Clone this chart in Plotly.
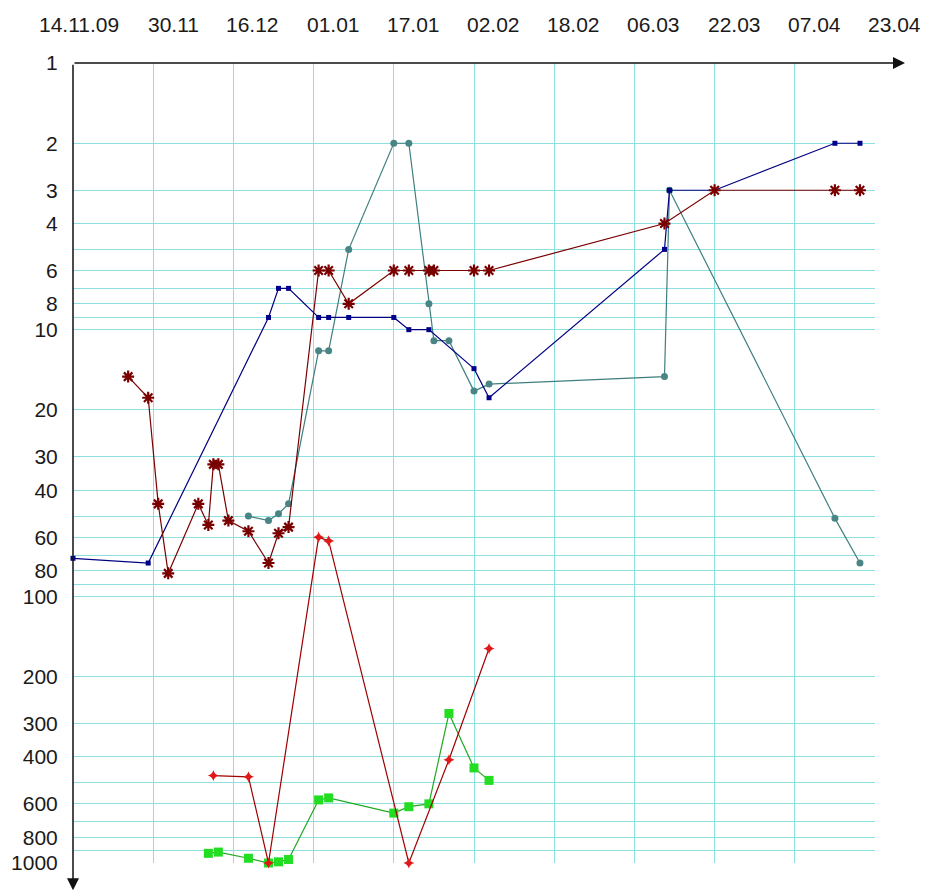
import plotly.graph_objects as go

# tick dates (every 16 days) and their labels
tick_dates = ['2009-11-14', '2009-11-30', '2009-12-16', '2010-01-01', '2010-01-17', '2010-02-02',
              '2010-02-18', '2010-03-06', '2010-03-22', '2010-04-07', '2010-04-23']
tick_text = ['14.11.09', '30.11', '16.12', '01.01', '17.01', '02.02',
             '18.02', '06.03', '22.03', '07.04', '23.04']

y_ticks = [1, 2, 3, 4, 5, 6, 7, 8, 9,
           10, 20, 30, 40, 50, 60, 70, 80, 90,
           100, 200, 300, 400, 500, 600, 700, 800, 900, 1000]
y_text = ['1', '2', '3', '4', '', '6', '', '8', '',
          '10', '20', '30', '40', '', '60', '', '80', '',
          '100', '200', '300', '400', '', '600', '', '800', '', '1000']

# navy series
blue_x = ['2009-11-14', '2009-11-29', '2009-12-23', '2009-12-25', '2009-12-27', '2010-01-02',
          '2010-01-04', '2010-01-08', '2010-01-17', '2010-01-20', '2010-01-24', '2010-02-02',
          '2010-02-05', '2010-03-12', '2010-03-13', '2010-03-22', '2010-04-15', '2010-04-20']
blue_y = [72, 75, 9, 7, 7, 9, 9, 9, 9, 10, 10, 14, 18, 5, 3, 3, 2, 2]

# dark red series (stars)
brown_x = ['2009-11-25', '2009-11-29', '2009-12-01', '2009-12-03', '2009-12-09', '2009-12-11',
           '2009-12-12', '2009-12-13', '2009-12-15', '2009-12-19', '2009-12-23', '2009-12-25',
           '2009-12-27', '2010-01-02', '2010-01-04', '2010-01-08', '2010-01-17', '2010-01-20',
           '2010-01-24', '2010-01-25', '2010-02-02', '2010-02-05', '2010-03-12', '2010-03-22',
           '2010-04-15', '2010-04-20']
brown_y = [15, 18, 45, 82, 45, 54, 32, 32, 52, 57, 75, 58, 55, 6, 6, 8, 6, 6, 6, 6, 6, 6, 4, 3, 3, 3]

# teal series (circles)
teal_x = ['2009-12-19', '2009-12-23', '2009-12-25', '2009-12-27', '2010-01-02', '2010-01-04',
          '2010-01-08', '2010-01-17', '2010-01-20', '2010-01-24', '2010-01-25', '2010-01-28',
          '2010-02-02', '2010-02-05', '2010-03-12', '2010-03-13', '2010-04-15', '2010-04-20']
teal_y = [50, 52, 49, 45, 12, 12, 5, 2, 2, 8, 11, 11, 17, 16, 15, 3, 51, 75]

# red series
red_x = ['2009-12-12', '2009-12-19', '2009-12-23', '2010-01-02', '2010-01-04', '2010-01-20',
         '2010-01-28', '2010-02-05']
red_y = [470, 475, 1000, 60, 62, 1000, 410, 157]

# green series
green_x = ['2009-12-11', '2009-12-13', '2009-12-19', '2009-12-23', '2009-12-25', '2009-12-27',
           '2010-01-02', '2010-01-04', '2010-01-17', '2010-01-20', '2010-01-24', '2010-01-28',
           '2010-02-02', '2010-02-05']
green_y = [920, 910, 960, 1000, 990, 970, 580, 570, 650, 615, 600, 275, 440, 490]

fig = go.Figure()

fig.add_trace(go.Scatter(x=green_x, y=green_y, mode='lines+markers', cliponaxis=False,
                         line=dict(color='#1fa81f', width=1.2),
                         marker=dict(symbol='square', size=9, color='#22dd22')))
fig.add_trace(go.Scatter(x=red_x, y=red_y, mode='lines+markers', cliponaxis=False,
                         line=dict(color='#a00000', width=1.2),
                         marker=dict(symbol='star-diamond', size=8, color='#e01818')))
fig.add_trace(go.Scatter(x=teal_x, y=teal_y, mode='lines+markers', cliponaxis=False,
                         line=dict(color='#3f7f7f', width=1.2),
                         marker=dict(symbol='circle', size=7, color='#4a8585')))
fig.add_trace(go.Scatter(x=blue_x, y=blue_y, mode='lines+markers', cliponaxis=False,
                         line=dict(color='#000080', width=1.2),
                         marker=dict(symbol='square', size=5, color='#00008b')))
fig.add_trace(go.Scatter(x=brown_x, y=brown_y, mode='lines+markers', cliponaxis=False,
                         line=dict(color='#7a0000', width=1.2),
                         marker=dict(symbol='asterisk-open', size=10,
                                     line=dict(color='#800000', width=2.2))))

grid = '#8ee0e0'
font = dict(family='Liberation Sans, Arial, sans-serif', size=21, color='#1a1a1a')

# date labels above the top axis, right-aligned just past each grid line
annotations = []
for d, t in zip(tick_dates, tick_text):
    annotations.append(dict(x=d, y=1, xref='x', yref='paper', text=t, showarrow=False,
                            xanchor='right', yanchor='middle', xshift=48, yshift=39, font=font))

# axis lines with arrowheads
annotations.append(dict(x=1.0374, y=1, xref='paper', yref='paper', text='', showarrow=True,
                        ax=-832, ay=0, arrowhead=2, arrowsize=1.6, arrowwidth=1.5, arrowcolor='#111'))
annotations.append(dict(x=0, y=-0.034, xref='paper', yref='paper', text='', showarrow=True,
                        ax=0, ay=-827, arrowhead=2, arrowsize=1.6, arrowwidth=1.5, arrowcolor='#111'))

fig.update_layout(
    width=928, height=895,
    margin=dict(l=65, r=61, t=55, b=40),
    paper_bgcolor='white', plot_bgcolor='white',
    showlegend=False,
    font=font,
    annotations=annotations,
    xaxis=dict(type='date', range=['2009-11-14', '2010-04-23'], tickvals=tick_dates,
               showticklabels=False, showgrid=True, gridcolor=grid, gridwidth=1,
               showline=False, zeroline=False, ticks='', automargin=False),
    yaxis=dict(type='log', range=[3, 0], tickvals=y_ticks, ticktext=y_text,
               showgrid=True, gridcolor=grid, gridwidth=1, showline=False, zeroline=False,
               ticks='outside', ticklen=10, tickcolor='rgba(0,0,0,0)', tickfont=font,
               automargin=False),
)

fig.write_html("out.html")
